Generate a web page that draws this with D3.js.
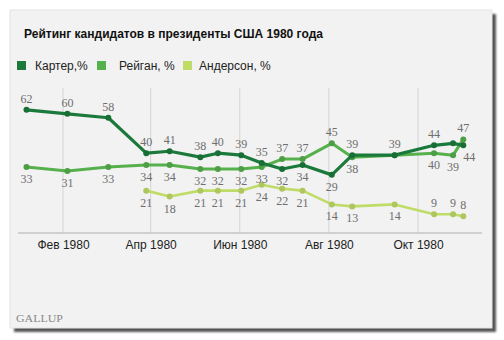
<!DOCTYPE html>
<html>
<head>
<meta charset="utf-8">
<script src="https://cdn.jsdelivr.net/npm/d3@7/dist/d3.min.js"></script>
<style>
  html, body { margin: 0; padding: 0; background: #ffffff; }
  svg { display: block; }
</style>
</head>
<body>
<svg id="chart" width="504" height="340"></svg>
<script>
// Gallup poll dates (end of field period), 1980
const pollDates = ["1980-01-07", "1980-02-04", "1980-03-03", "1980-03-29", "1980-04-14",
  "1980-05-05", "1980-05-17", "1980-06-02", "1980-06-16", "1980-06-30", "1980-07-14",
  "1980-08-03", "1980-08-17", "1980-09-15", "1980-10-12", "1980-10-25", "1980-11-01"];

const carter   = [62, 60, 58, 40, 41, 38, 40, 39, 35, 32, 34, 29, 39, 39, 44, 45, 44];
const reagan   = [33, 31, 33, 34, 34, 32, 32, 32, 33, 37, 37, 45, 38, 39, 40, 39, 47];
const anderson = [null, null, null, 21, 18, 21, 21, 21, 24, 22, 21, 14, 13, 14, 9, 9, 8];

const seriesNames = ["Картер,%", "Рейган, %", "Андерсон, %"];
const tickDates = ["1980-02-01", "1980-04-01", "1980-06-01", "1980-08-01", "1980-10-01"];
const tickLabels = ["Фев 1980", "Апр 1980", "Июн 1980", "Авг 1980", "Окт 1980"];
const titleText = "Рейтинг кандидатов в президенты США 1980 года";

// where each value label sits relative to its point: t = above, b = below, r = below-right, "" = none
const carterLabelAt   = ["t","t","t","t","t","t","t","t","t","b","b","b","t","t","t","","r"];
const reaganLabelAt   = ["b","b","b","b","b","b","b","b","b","t","t","t","b","","b","b","t"];
const andersonLabelAt = ["","","","b","b","b","b","b","b","b","b","b","b","b","t","t","t"];

const parse = d3.timeParse("%Y-%m-%d");
const dates = pollDates.map(parse);

const svg = d3.select("#chart");

// panel with drop shadow
const defs = svg.append("defs");
const f = defs.append("filter").attr("id", "shadow").attr("x", "-5%").attr("y", "-5%")
  .attr("width", "115%").attr("height", "115%");
f.append("feGaussianBlur").attr("stdDeviation", 1.2);

svg.append("rect").attr("x", 14).attr("y", 14).attr("width", 482).attr("height", 318)
  .attr("fill", "#555").attr("filter", "url(#shadow)");
svg.append("rect").attr("x", 10).attr("y", 10).attr("width", 482).attr("height", 318)
  .attr("fill", "#f2f2f2").attr("stroke", "#e4e4e4").attr("stroke-width", 1);

// title
svg.append("text").attr("x", 24).attr("y", 38)
  .attr("font-family", "Liberation Sans, Arial, sans-serif")
  .attr("font-size", 12).attr("font-weight", "bold").attr("fill", "#111")
  .text(titleText);

// scales
const x = d3.scaleTime()
  .domain([parse("1980-02-01"), parse("1980-10-01")])
  .range([63, 418]);
const y = d3.scaleLinear().domain([0, 100]).range([232, 35]);

const colors = ["#1b7a3b", "#56b04c", "#c0dc68"];

// legend
const legendX = [17, 97, 183];
const legendTextX = [35, 119, 199];
seriesNames.forEach((name, i) => {
  svg.append("rect").attr("x", legendX[i]).attr("y", 61).attr("width", 9).attr("height", 9)
    .attr("fill", colors[i]);
  svg.append("text").attr("x", legendTextX[i]).attr("y", 70)
    .attr("font-family", "Liberation Sans, Arial, sans-serif")
    .attr("font-size", 12).attr("fill", "#222")
    .text(name);
});

// vertical grid lines at month starts
const ticks = tickDates.map(parse);
svg.append("g").selectAll("line").data(ticks).join("line")
  .attr("x1", d => x(d)).attr("x2", d => x(d))
  .attr("y1", 88).attr("y2", 233)
  .attr("stroke", "#d4d4d4").attr("stroke-width", 1);

// baseline
svg.append("line").attr("x1", 18).attr("x2", 482).attr("y1", 233).attr("y2", 233)
  .attr("stroke", "#c4c4c4").attr("stroke-width", 1.5);

// x axis labels
const xAxis = d3.axisBottom(x).tickValues(ticks)
  .tickFormat((d, i) => tickLabels[i]).tickSize(0).tickPadding(0);
const ax = svg.append("g").attr("transform", "translate(0,240)").call(xAxis);
ax.select(".domain").remove();
ax.selectAll("text")
  .attr("font-family", "Liberation Sans, Arial, sans-serif")
  .attr("font-size", 12).attr("fill", "#222").attr("dy", "0.71em");

// series
const allSeries = [
  { values: carter, labels: carterLabelAt, width: 3.2 },
  { values: reagan, labels: reaganLabelAt, width: 3 },
  { values: anderson, labels: andersonLabelAt, width: 2.6 }
];

const line = d3.line()
  .defined(d => d.v !== null)
  .x(d => x(d.date)).y(d => y(d.v));

// draw light series first so darker lines sit on top
[2, 1, 0].forEach(i => {
  const s = allSeries[i];
  const pts = s.values.map((v, j) => ({ v, date: dates[j], pos: s.labels[j] }));
  const g = svg.append("g");
  g.append("path").datum(pts)
    .attr("d", line).attr("fill", "none")
    .attr("stroke", colors[i]).attr("stroke-width", s.width)
    .attr("stroke-linejoin", "round").attr("stroke-linecap", "round");
  g.selectAll("circle").data(pts.filter(d => d.v !== null)).join("circle")
    .attr("cx", d => x(d.date)).attr("cy", d => y(d.v)).attr("r", 3)
    .attr("fill", d3.color(colors[i]).darker(0.3));
});

// value labels on top of all lines
[0, 1, 2].forEach(i => {
  const s = allSeries[i];
  const pts = s.values.map((v, j) => ({ v, date: dates[j], pos: s.labels[j] }))
    .filter(d => d.v !== null && d.pos !== "");
  svg.append("g").selectAll("text").data(pts).join("text")
    .attr("x", d => x(d.date) + (d.pos === "r" ? 6 : 0))
    .attr("y", d => y(d.v) + (d.pos === "t" ? -7 : 16))
    .attr("text-anchor", "middle")
    .attr("font-family", "Liberation Serif, Times New Roman, serif")
    .attr("font-size", 12).attr("fill", "#6e6e6e")
    .text(d => d.v);
});

// source mark
svg.append("text").attr("x", 16).attr("y", 322)
  .attr("font-family", "Liberation Serif, Times New Roman, serif")
  .attr("font-size", 11).attr("fill", "#8a8a8a")
  .attr("textLength", 47).attr("lengthAdjust", "spacingAndGlyphs")
  .text("GALLUP");
</script>
</body>
</html>
